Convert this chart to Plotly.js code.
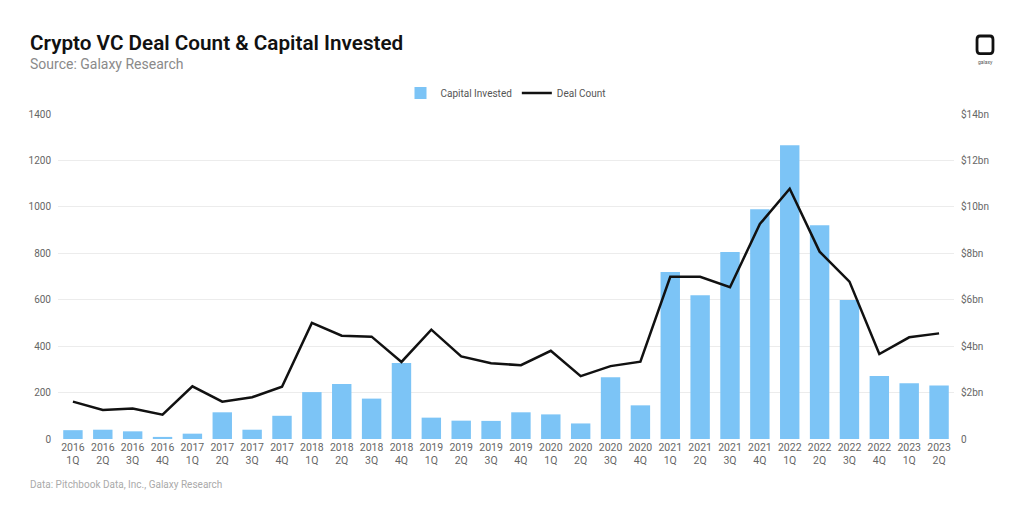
<!DOCTYPE html>
<html>
<head>
<meta charset="utf-8">
<script src="https://cdn.plot.ly/plotly-3.0.1.min.js"></script>
<style>html,body{margin:0;padding:0;background:#fff;}#chart{width:1009px;height:523px;}</style>
</head>
<body>
<div id="chart"></div>
<script>
const quarters = ["2016<br>1Q","2016<br>2Q","2016<br>3Q","2016<br>4Q","2017<br>1Q","2017<br>2Q","2017<br>3Q","2017<br>4Q",
"2018<br>1Q","2018<br>2Q","2018<br>3Q","2018<br>4Q","2019<br>1Q","2019<br>2Q","2019<br>3Q","2019<br>4Q",
"2020<br>1Q","2020<br>2Q","2020<br>3Q","2020<br>4Q","2021<br>1Q","2021<br>2Q","2021<br>3Q","2021<br>4Q",
"2022<br>1Q","2022<br>2Q","2022<br>3Q","2022<br>4Q","2023<br>1Q","2023<br>2Q"];
const capitalInvestedBn = [0.38,0.40,0.33,0.09,0.23,1.15,0.40,1.00,2.02,2.37,1.74,3.27,0.92,0.79,0.78,1.15,
1.06,0.67,2.66,1.45,7.19,6.19,8.06,9.90,12.65,9.21,5.99,2.71,2.40,2.30];
const dealCount = [161,125,131,105,227,161,180,225,500,445,441,332,471,356,326,318,
380,271,314,333,699,699,654,926,1078,807,678,366,438,455];
const leftTicks = [0,200,400,600,800,1000,1200,1400];
const rightTickVals = [0,2,4,6,8,10,12,14];
const rightTickText = ["0","$2bn","$4bn","$6bn","$8bn","$10bn","$12bn","$14bn"];

const font = "Roboto, 'Noto Sans', sans-serif";
const traces = [
  {type:'bar', name:'Capital Invested', x:quarters, y:capitalInvestedBn, yaxis:'y',
   marker:{color:'#7cc4f6'}, hoverinfo:'none'},
  {type:'scatter', mode:'lines', name:'Deal Count', x:quarters, y:dealCount, yaxis:'y2',
   line:{color:'#111111', width:2.5}, hoverinfo:'none'}
];
const layout = {
  width:1009, height:523,
  margin:{l:58, r:55, t:114, b:84},
  paper_bgcolor:'#ffffff', plot_bgcolor:'#ffffff',
  font:{family:font, color:'#666', size:10},
  bargap:0.35,
  showlegend:true,
  legend:{orientation:'h', x:0.5, xanchor:'center', y:1.065, yanchor:'middle',
          font:{size:10, color:'#555'}, traceorder:'normal', itemwidth:30},
  xaxis:{type:'category', showgrid:false, zeroline:false, showline:false, ticks:'',
         tickfont:{size:10.5, color:'#666'}, tickangle:0, automargin:false},
  yaxis:{side:'right', range:[0,14], tickvals:rightTickVals, ticktext:rightTickText,
         showgrid:true, gridcolor:'#ececec', gridwidth:1, zeroline:false, showline:false, ticks:'',
         tickfont:{size:10, color:'#666'}, ticklabelstandoff:6, automargin:false},
  yaxis2:{side:'left', overlaying:'y', range:[0,1400], tickvals:leftTicks,
          showgrid:false, zeroline:false, showline:false, ticks:'',
          tickfont:{size:10, color:'#666'}, ticklabelstandoff:6, automargin:false},
  annotations:[
    {xref:'paper', yref:'paper', x:-0.0335, y:1.2185, xanchor:'left', yanchor:'middle', showarrow:false,
     text:'Crypto VC Deal Count &amp; Capital Invested', font:{family:font, size:20.7, color:'#111', weight:600}},
    {xref:'paper', yref:'paper', x:-0.0335, y:1.1538, xanchor:'left', yanchor:'middle', showarrow:false,
     text:'Source: Galaxy Research', font:{family:font, size:14, color:'#8a8a8a'}},
    {xref:'paper', yref:'paper', x:-0.0335, y:-0.1415, xanchor:'left', yanchor:'middle', showarrow:false,
     text:'Data: Pitchbook Data, Inc., Galaxy Research', font:{family:font, size:10, color:'#aaaaaa'}},
    {xref:'paper', yref:'paper', x:1.0346, y:1.16, xanchor:'center', yanchor:'middle', showarrow:false,
     text:'galaxy', font:{family:font, size:5, color:'#555'}}
  ],
  shapes:[
    {type:'path', xref:'paper', yref:'paper',
     path:'M 1.0290,1.2400 L 1.0402,1.2400 Q 1.0435,1.2400 1.0435,1.2290 L 1.0435,1.1970 Q 1.0435,1.1860 1.0402,1.1860 L 1.0290,1.1860 Q 1.0257,1.1860 1.0257,1.1970 L 1.0257,1.2290 Q 1.0257,1.2400 1.0290,1.2400 Z',
     line:{color:'#111', width:2.8}, fillcolor:'rgba(0,0,0,0)'}
  ]
};
Plotly.newPlot('chart', traces, layout, {displayModeBar:false, staticPlot:true});
</script>
</body>
</html>
